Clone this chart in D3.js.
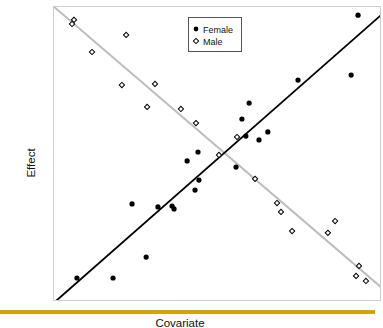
<!DOCTYPE html>
<html><head><meta charset="utf-8">
<script src="https://cdn.jsdelivr.net/npm/d3@7"></script>
<style>body{margin:0;background:#fff}svg{display:block;font-family:"Liberation Sans",Arial,sans-serif}</style>
</head><body><svg id="c" width="383" height="328"></svg>
<script>
const femaleX = [9.30,9.09,7.47,5.98,5.76,5.88,6.28,6.55,4.42,4.09,4.45,4.33,2.41,3.20,3.63,3.69,2.84,0.73,1.83,5.58];
const femaleY = [9.69,7.66,7.49,6.71,6.17,5.59,5.46,5.73,5.05,4.75,4.10,3.76,3.29,3.19,3.22,3.12,1.49,0.78,0.78,4.54];
const maleX = [0.64,0.58,2.23,1.19,2.10,3.11,2.87,3.90,4.36,5.61,5.06,6.16,6.83,6.95,7.29,8.60,8.38,9.33,9.24,9.54];
const maleY = [9.53,9.39,9.02,8.44,7.32,7.36,6.58,6.51,6.03,5.56,4.95,4.14,3.32,3.02,2.37,2.71,2.31,1.19,0.85,0.68];
const femaleFitX = [0.09,10]; const femaleFitY = [0,9.69];
const maleFitX = [0,10]; const maleFitY = [10,0.47];
const seriesNames = ["Female","Male"];
const xLabel = "Covariate", yLabel = "Effect";

const svg = d3.select("#c");
const L=53,R=381,T=6,B=301;
const x = d3.scaleLinear().domain([0,10]).range([L,R]);
const y = d3.scaleLinear().domain([0,10]).range([B,T]);

svg.append("clipPath").attr("id","clip").append("rect").attr("x",L).attr("y",T).attr("width",R-L).attr("height",B-T);
const g = svg.append("g").attr("clip-path","url(#clip)");
const line = d3.line().x(d=>x(d[0])).y(d=>y(d[1]));
g.append("path").datum(d3.zip(maleFitX,maleFitY)).attr("d",line).attr("stroke","#bdbdbd").attr("stroke-width",2).attr("fill","none");
g.append("path").datum(d3.zip(femaleFitX,femaleFitY)).attr("d",line).attr("stroke","#000").attr("stroke-width",1.8).attr("fill","none");

const diamond = d3.symbol().type(d3.symbolSquare).size(14);
svg.append("g").selectAll("path").data(d3.zip(maleX,maleY)).join("path")
  .attr("d",diamond()).attr("transform",d=>`translate(${x(d[0])},${y(d[1])}) rotate(45)`)
  .attr("fill","#fff").attr("stroke","#000").attr("stroke-width",1);
svg.append("g").selectAll("circle").data(d3.zip(femaleX,femaleY)).join("circle")
  .attr("cx",d=>x(d[0])).attr("cy",d=>y(d[1])).attr("r",2.6).attr("fill","#000");

svg.append("rect").attr("x",L+0.5).attr("y",T+0.5).attr("width",R-L-1).attr("height",B-T-1)
  .attr("fill","none").attr("stroke","#cfcfcf").attr("stroke-width",1);

// legend
const lg = svg.append("g");
lg.append("rect").attr("x",188.5).attr("y",17.5).attr("width",53).attr("height",34).attr("fill","#fff").attr("stroke","#555");
lg.append("circle").attr("cx",196).attr("cy",29).attr("r",2.4).attr("fill","#000");
lg.append("path").attr("d",diamond()).attr("transform","translate(196,41) rotate(45)").attr("fill","#fff").attr("stroke","#000");
lg.selectAll("text").data(seriesNames).join("text").attr("x",203).attr("y",(d,i)=>32.5+i*12)
  .attr("font-size",9).attr("fill","#111").text(d=>d);

// gold rule
svg.append("rect").attr("x",0).attr("y",310).attr("width",375).attr("height",4).attr("fill","#d4a307");

svg.append("text").attr("x",180).attr("y",327).attr("text-anchor","middle").attr("font-size",11.5).attr("fill","#111").text(xLabel);
svg.append("text").attr("transform","translate(35,163) rotate(-90)").attr("text-anchor","middle").attr("font-size",11.5).attr("fill","#111").text(yLabel);
</script></body></html>
